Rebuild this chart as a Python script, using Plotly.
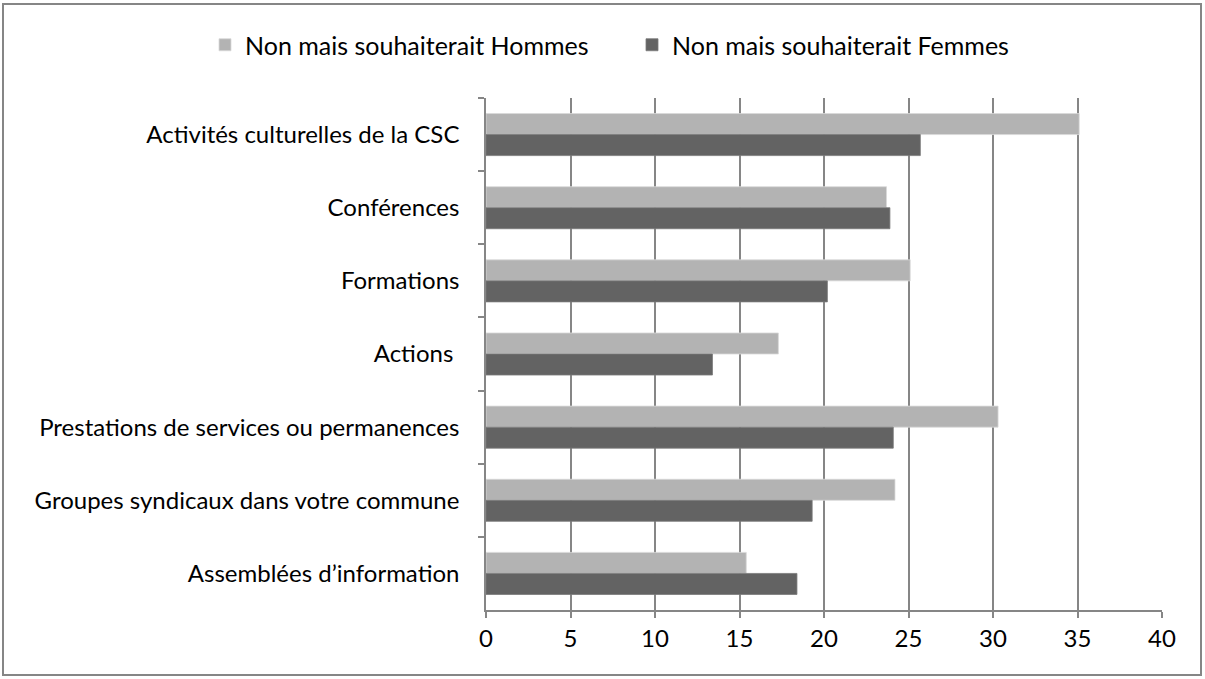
import plotly.graph_objects as go

categories = [
    "Activités culturelles de la CSC",
    "Conférences",
    "Formations",
    "Actions ",
    "Prestations de services ou permanences",
    "Groupes syndicaux dans votre commune",
    "Assemblées d’information",
]
hommes = [35.1, 23.7, 25.1, 17.3, 30.3, 24.2, 15.4]
femmes = [25.7, 23.9, 20.2, 13.4, 24.1, 19.3, 18.4]
x_ticks = [0, 5, 10, 15, 20, 25, 30, 35, 40]

FONT = "Lato"
FSIZE = 24
GRID = "#868686"

fig = go.Figure()
fig.add_trace(go.Bar(
    y=categories, x=hommes, orientation="h",
    name="Non mais souhaiterait Hommes",
    marker=dict(color="#b3b3b3", line=dict(color="#d9d9d9", width=0.8)),
))
fig.add_trace(go.Bar(
    y=categories, x=femmes, orientation="h",
    name="Non mais souhaiterait Femmes",
    marker=dict(color="#636363", line=dict(color="#7a7a7a", width=0.8)),
))

L, R, T, B = 486, 43, 98, 69
W, H = 1205, 679
pw, ph = W - L - R, H - T - B


def px_x(p):
    return (p - L) / pw


def px_y(p):
    return (H - B - p) / ph


fig.update_layout(
    width=W, height=H,
    margin=dict(l=L, r=R, t=T, b=B, pad=0),
    paper_bgcolor="white", plot_bgcolor="white",
    barmode="group", bargap=0.425, bargroupgap=0,
    font=dict(family=FONT, size=FSIZE, color="#000000"),
    showlegend=True,
    legend=dict(
        orientation="h", x=px_x(205), xanchor="left",
        y=px_y(45), yanchor="middle",
        font=dict(family=FONT, size=25),
        traceorder="normal", itemclick=False,
        entrywidth=382, entrywidthmode="pixels",
    ),
    xaxis=dict(
        range=[0, 40], tickvals=x_ticks, ticktext=[str(v) for v in x_ticks],
        showgrid=True, gridcolor=GRID, gridwidth=1.5,
        showline=True, linecolor=GRID, linewidth=1.5,
        ticks="outside", ticklen=6, tickcolor=GRID, tickwidth=1.5,
        ticklabelstandoff=0, zeroline=False, fixedrange=True,
    ),
    yaxis=dict(
        autorange="reversed", type="category",
        showline=True, linecolor=GRID, linewidth=1.5,
        ticks="outside", ticklen=6, tickcolor=GRID, tickwidth=1.5,
        tickson="boundaries", showgrid=False,
        ticklabelstandoff=20, fixedrange=True,
    ),
    shapes=[dict(
        type="rect", xref="paper", yref="paper",
        x0=px_x(3), x1=px_x(1201), y0=px_y(675), y1=px_y(4),
        line=dict(color=GRID, width=2), fillcolor="rgba(0,0,0,0)", layer="above",
    )],
)

fig.write_html("out.html")
